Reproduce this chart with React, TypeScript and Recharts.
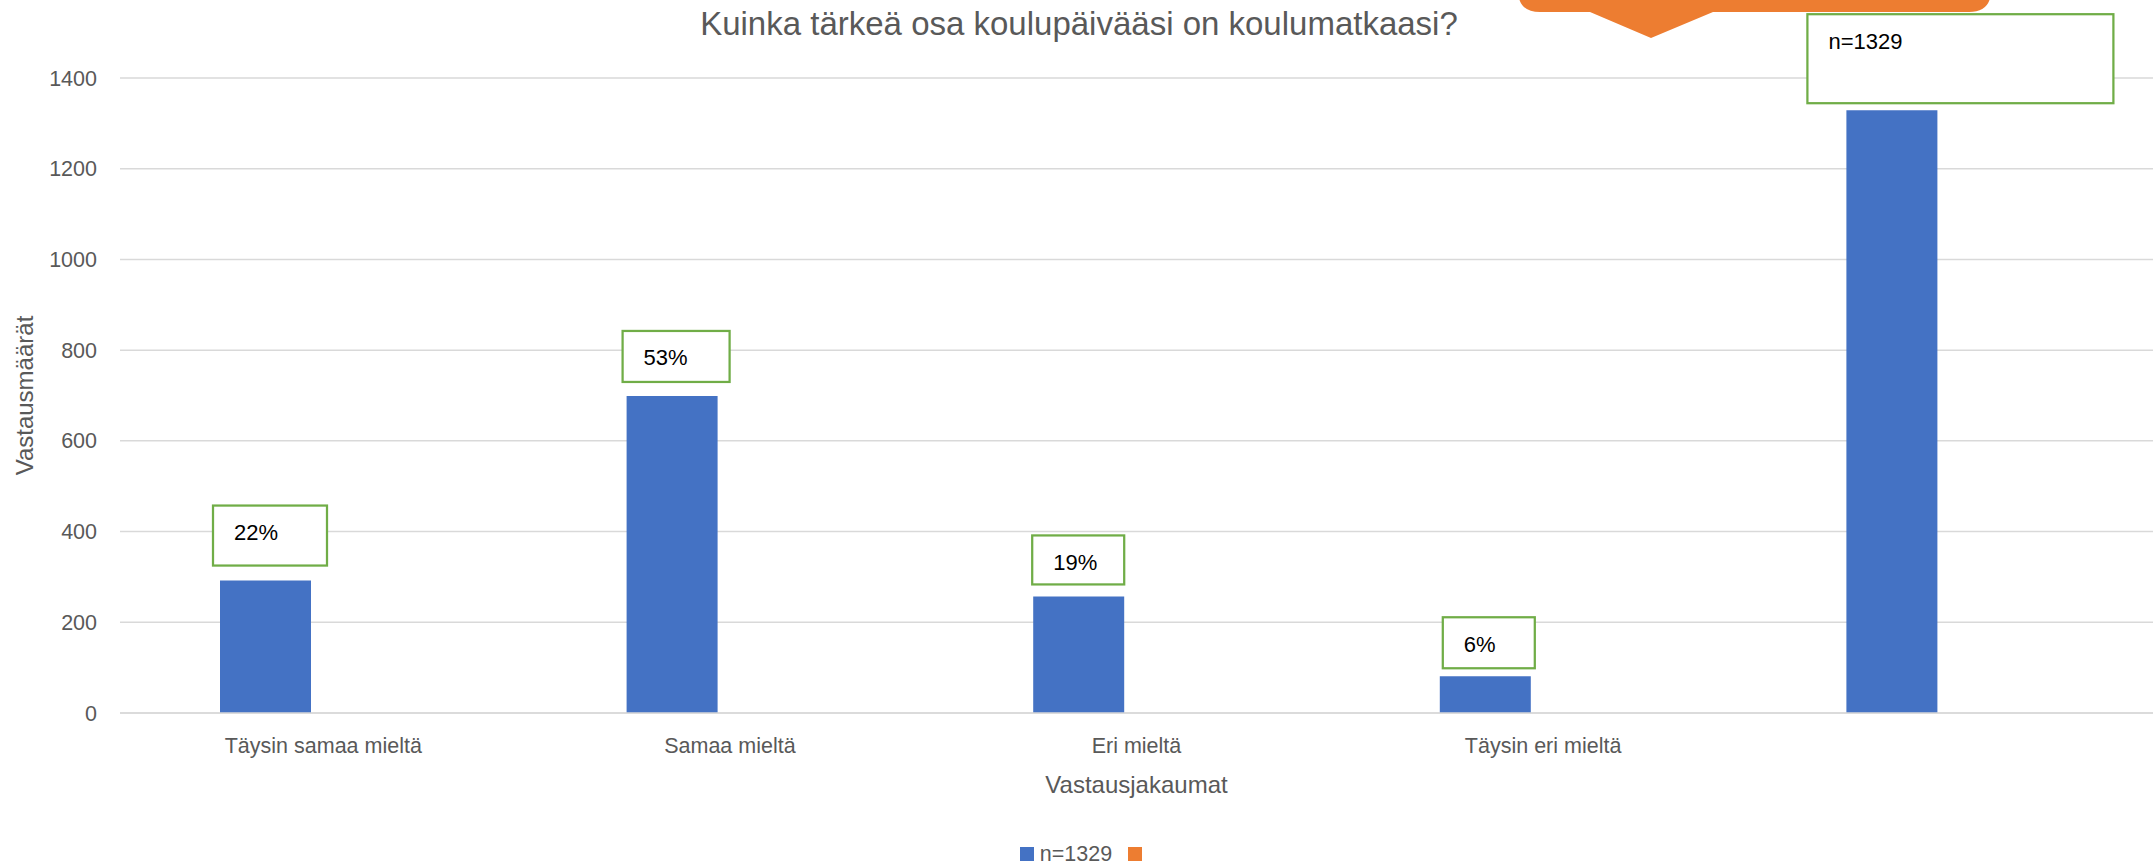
import { BarChart, Bar, XAxis, YAxis, CartesianGrid, Legend, LabelList } from 'recharts';

const FONT = '"Liberation Sans", Arial, sans-serif';

const categories = ['Täysin samaa mieltä', 'Samaa mieltä', 'Eri mieltä', 'Täysin eri mieltä', ''];
const responses = [292, 699, 257, 81, 1329];
const emptySeries = [null, null, null, null, null];
const shareLabels = ['22%', '53%', '19%', '6%', 'n=1329'];
const yTicks = [0, 200, 400, 600, 800, 1000, 1200, 1400];

const title = 'Kuinka tärkeä osa koulupäivääsi on koulumatkaasi?';
const seriesName = 'n=1329';

const data = categories.map((category, i) => ({
  category,
  responses: responses[i],
  other: emptySeries[i],
  label: shareLabels[i],
}));

// the label boxes were hand-resized in the original, so each has its own size
const boxes = [
  { dx: -7, w: 114, h: 60, gap: 15 },
  { dx: -4, w: 107, h: 51, gap: 14 },
  { dx: -1, w: 92, h: 49, gap: 12 },
  { dx: 3, w: 92, h: 51, gap: 8 },
  { dx: -39, w: 306, h: 89, gap: 7 },
];

const renderBox = (props: any) => {
  const { x, y, index, value } = props;
  const b = boxes[index];
  const left = Number(x) + b.dx;
  const top = Number(y) - b.gap - b.h;
  return (
    <g>
      <rect x={left} y={top} width={b.w} height={b.h} fill="#fff" stroke="#70AD47" strokeWidth={2.25} />
      <text x={left + 21} y={top + 34.5} fontSize={22} fill="#000" fontFamily={FONT}>
        {value}
      </text>
    </g>
  );
};

const renderLegend = () => (
  <div
    style={{
      display: 'flex',
      justifyContent: 'center',
      alignItems: 'center',
      height: 24,
      paddingLeft: 7,
      fontFamily: FONT,
      fontSize: 21.5,
      color: '#595959',
    }}
  >
    <span style={{ width: 14, height: 14, background: '#4472C4', marginRight: 6 }} />
    <span>{seriesName}</span>
    <span style={{ width: 14, height: 14, background: '#ED7D31', marginLeft: 16 }} />
  </div>
);

export default function App() {
  return (
    <div style={{ position: 'absolute', left: 0, top: 0, width: 2155, height: 866, background: '#fff' }}>
      <BarChart
        width={2155}
        height={866}
        data={data}
        margin={{ top: 78, right: 2, bottom: 53, left: 0 }}
        barGap={24}
        style={{ fontFamily: FONT }}
      >
        <CartesianGrid vertical={false} stroke="#D9D9D9" strokeWidth={1.5} />
        <XAxis
          dataKey="category"
          interval={0}
          height={100}
          tickLine={false}
          tickSize={0}
          tickMargin={25}
          axisLine={{ stroke: '#D9D9D9', strokeWidth: 1.5 }}
          tick={{ fontSize: 21.5, fill: '#595959', fontFamily: FONT }}
          label={{
            content: (p: any) => {
              const vb = p.viewBox;
              return (
                <text x={vb.x + vb.width / 2} y={vb.y + 80} textAnchor="middle" fontSize={24} fill="#595959" fontFamily={FONT}>
                  Vastausjakaumat
                </text>
              );
            },
          }}
        />
        <YAxis
          type="number"
          domain={[0, 1400]}
          ticks={yTicks}
          width={120}
          axisLine={false}
          tickLine={false}
          tickSize={0}
          tickMargin={23}
          tick={{ fontSize: 21.5, fill: '#595959', fontFamily: FONT }}
          label={{
            content: (p: any) => {
              const vb = p.viewBox;
              const cx = vb.x + 24;
              const cy = vb.y + vb.height / 2;
              return (
                <text
                  x={cx}
                  y={cy}
                  transform={`rotate(-90 ${cx} ${cy})`}
                  textAnchor="middle"
                  dominantBaseline="central"
                  fontSize={24}
                  fill="#595959"
                  fontFamily={FONT}
                >
                  Vastausmäärät
                </text>
              );
            },
          }}
        />
        <Legend
          verticalAlign="middle"
          align="center"
          layout="horizontal"
          wrapperStyle={{ top: 842, left: 0, width: 2155 }}
          content={renderLegend}
        />
        <Bar dataKey="responses" name={seriesName} fill="#4472C4" barSize={91} isAnimationActive={false}>
          <LabelList dataKey="label" content={renderBox} />
        </Bar>
        <Bar dataKey="other" name="" fill="#ED7D31" barSize={91} isAnimationActive={false} />
      </BarChart>
      <svg
        width={2155}
        height={866}
        style={{ position: 'absolute', left: 0, top: 0, pointerEvents: 'none' }}
      >
        <text x={1079} y={35} textAnchor="middle" fontSize={33} fill="#595959" fontFamily={FONT}>
          {title}
        </text>
        <path
          d="M1518,-40 L1518,-10 Q1518,12 1540,12 L1590,12 L1651,38 L1713,12 L1969,12 Q1991,12 1991,-10 L1991,-40 Z"
          fill="#ED7D31"
        />
      </svg>
    </div>
  );
}
